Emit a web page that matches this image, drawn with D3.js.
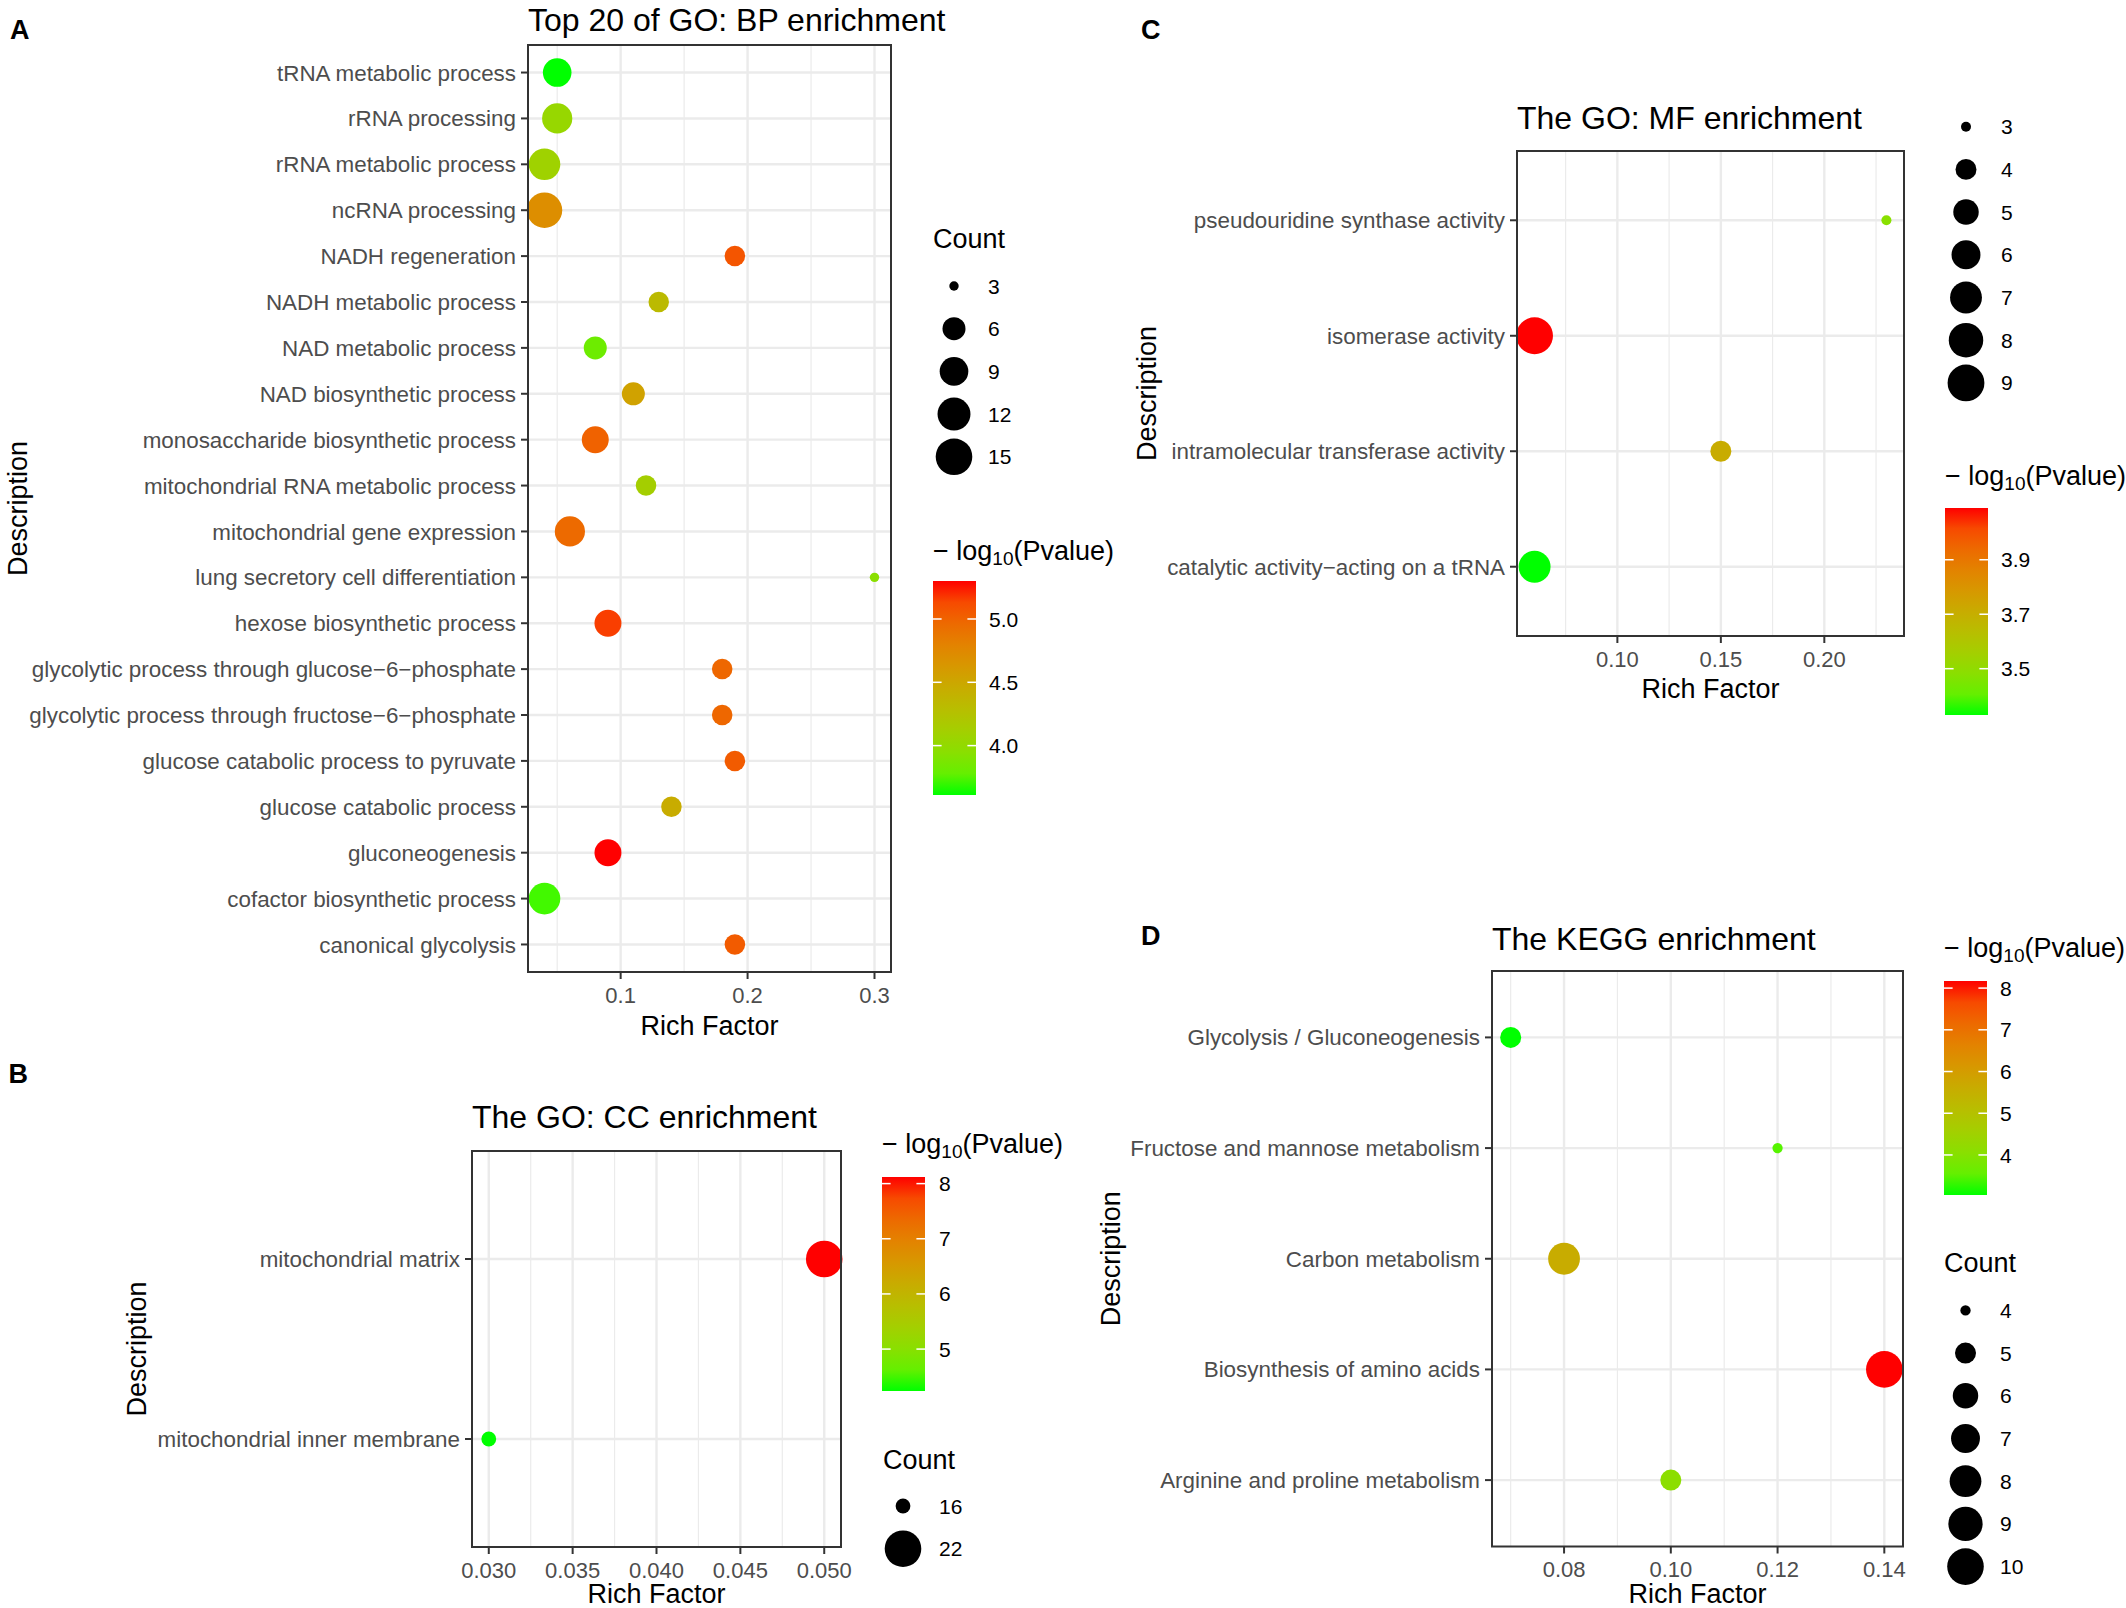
<!DOCTYPE html>
<html>
<head>
<meta charset="utf-8">
<script src="https://cdn.jsdelivr.net/npm/d3@7"></script>
<style>
body { margin: 0; background: #fff; }
svg text { font-family: "Liberation Sans", Arial, sans-serif; }
</style>
</head>
<body>
<script>
// ---- A: GO BP (rows listed top to bottom) ----
var bpTerms = ["tRNA metabolic process", "rRNA processing", "rRNA metabolic process", "ncRNA processing",
	"NADH regeneration", "NADH metabolic process", "NAD metabolic process", "NAD biosynthetic process",
	"monosaccharide biosynthetic process", "mitochondrial RNA metabolic process", "mitochondrial gene expression",
	"lung secretory cell differentiation", "hexose biosynthetic process", "glycolytic process through glucose\u22126\u2212phosphate",
	"glycolytic process through fructose\u22126\u2212phosphate", "glucose catabolic process to pyruvate",
	"glucose catabolic process", "gluconeogenesis", "cofactor biosynthetic process", "canonical glycolysis"];
var bpRich = [0.05, 0.05, 0.04, 0.04, 0.19, 0.13, 0.08, 0.11, 0.08, 0.12, 0.06, 0.30, 0.09, 0.18, 0.18, 0.19, 0.14, 0.09, 0.04, 0.19];
var bpCount = [9, 10, 11, 14, 5, 5, 6, 6, 8, 5, 10, 3, 8, 5, 5, 5, 5, 8, 11, 5];
var bpLogP = [3.61, 4.03, 4.08, 4.71, 5.08, 4.32, 3.81, 4.54, 5.01, 4.12, 4.96, 3.95, 5.18, 4.98, 4.98, 5.05, 4.45, 5.30, 3.68, 5.05];
var bpRichTicks = [0.1, 0.2, 0.3];
var bpCountBreaks = [3, 6, 9, 12, 15];
var bpLogPTicks = [4.0, 4.5, 5.0];

// ---- B: GO CC ----
var ccTerms = ["mitochondrial matrix", "mitochondrial inner membrane"];
var ccRich = [0.05, 0.03];
var ccCount = [22, 16];
var ccLogP = [8.12, 4.24];
var ccRichTicks = [0.030, 0.035, 0.040, 0.045, 0.050];
var ccCountBreaks = [16, 22];
var ccLogPTicks = [5, 6, 7, 8];

// ---- C: GO MF ----
var mfTerms = ["pseudouridine synthase activity", "isomerase activity", "intramolecular transferase activity",
	"catalytic activity\u2212acting on a tRNA"];
var mfRich = [0.23, 0.06, 0.15, 0.06];
var mfCount = [3, 9, 4, 7];
var mfLogP = [3.48, 4.09, 3.71, 3.33];
var mfRichTicks = [0.10, 0.15, 0.20];
var mfCountBreaks = [3, 4, 5, 6, 7, 8, 9];
var mfLogPTicks = [3.5, 3.7, 3.9];

// ---- D: KEGG ----
var keggTerms = ["Glycolysis / Gluconeogenesis", "Fructose and mannose metabolism", "Carbon metabolism",
	"Biosynthesis of amino acids", "Arginine and proline metabolism"];
var keggRich = [0.07, 0.12, 0.08, 0.14, 0.10];
var keggCount = [5, 4, 8, 10, 5];
var keggLogP = [3.04, 3.40, 5.60, 8.17, 4.10];
var keggRichTicks = [0.08, 0.10, 0.12, 0.14];
var keggCountBreaks = [4, 5, 6, 7, 8, 9, 10];
var keggLogPTicks = [4, 5, 6, 7, 8];

var W = 2126, H = 1608;
var svg = d3.select("body").append("svg")
	.attr("width", W)
	.attr("height", H)
	.style("background", "#fff");

var defs = svg.append("defs");

function drawPanel(p) {
	var g = svg.append("g");
	var box = p.box;

	// scales
	var ext = d3.extent(p.rich);
	var pad = (ext[1] - ext[0]) * 0.05;
	var x = d3.scaleLinear().domain([ext[0] - pad, ext[1] + pad]).range([box.l, box.r]);
	var y = d3.scalePoint().domain(p.terms).range([box.t, box.b]).padding(0.6);
	var cExt = d3.extent(p.logp);
	var color = d3.scaleLinear().domain(cExt).range(["#00ff00", "#ff0000"]).interpolate(d3.interpolateLab);
	var cmin = d3.min(p.count);
	var sq = d3.scaleSqrt().domain([0, p.breaks[p.breaks.length - 1] - cmin]).range([p.rmin, p.rmax]);
	var size = function(c) { return sq(c - cmin); };

	// gridlines: minor then major
	var step = p.ticks[1] - p.ticks[0];
	var minor = [];
	for (var m = p.ticks[0] - step / 2; m <= p.ticks[p.ticks.length - 1] + step; m += step) {
		if (m > x.domain()[0] && m < x.domain()[1]) minor.push(m);
	}
	g.selectAll(".minor").data(minor).enter().append("line")
		.attr("x1", function(d) { return x(d); }).attr("x2", function(d) { return x(d); })
		.attr("y1", box.t).attr("y2", box.b)
		.style("stroke", "#ebebeb").style("stroke-width", 1.2);
	g.selectAll(".vmajor").data(p.ticks).enter().append("line")
		.attr("x1", function(d) { return x(d); }).attr("x2", function(d) { return x(d); })
		.attr("y1", box.t).attr("y2", box.b)
		.style("stroke", "#ebebeb").style("stroke-width", 2.4);
	g.selectAll(".hmajor").data(p.terms).enter().append("line")
		.attr("x1", box.l).attr("x2", box.r)
		.attr("y1", function(d) { return y(d); }).attr("y2", function(d) { return y(d); })
		.style("stroke", "#ebebeb").style("stroke-width", 2.4);

	// points
	g.selectAll(".pt").data(p.terms).enter().append("circle")
		.attr("cx", function(d, i) { return x(p.rich[i]); })
		.attr("cy", function(d) { return y(d); })
		.attr("r", function(d, i) { return size(p.count[i]); })
		.style("fill", function(d, i) { return color(p.logp[i]); });

	// border
	g.append("rect")
		.attr("x", box.l).attr("y", box.t)
		.attr("width", box.r - box.l).attr("height", box.b - box.t)
		.style("fill", "none").style("stroke", "#333").style("stroke-width", 2);

	// y axis ticks + labels
	g.selectAll(".yt").data(p.terms).enter().append("line")
		.attr("x1", box.l - 7).attr("x2", box.l)
		.attr("y1", function(d) { return y(d); }).attr("y2", function(d) { return y(d); })
		.style("stroke", "#333").style("stroke-width", 2);
	g.selectAll(".yl").data(p.terms).enter().append("text")
		.attr("x", box.l - 12)
		.attr("y", function(d) { return y(d); })
		.attr("dy", "0.36em")
		.attr("text-anchor", "end")
		.style("font-size", "22.4px").style("fill", "#4d4d4d")
		.text(function(d) { return d; });

	// x axis ticks + labels
	var fmt = d3.format(p.xfmt);
	g.selectAll(".xt").data(p.ticks).enter().append("line")
		.attr("x1", function(d) { return x(d); }).attr("x2", function(d) { return x(d); })
		.attr("y1", box.b).attr("y2", box.b + 7)
		.style("stroke", "#333").style("stroke-width", 2);
	g.selectAll(".xl").data(p.ticks).enter().append("text")
		.attr("x", function(d) { return x(d); })
		.attr("y", box.b + 30.5)
		.attr("text-anchor", "middle")
		.style("font-size", "22px").style("fill", "#4d4d4d")
		.text(function(d) { return fmt(d); });

	// titles
	g.append("text")
		.attr("x", (box.l + box.r) / 2).attr("y", box.b + p.xtitleGap)
		.attr("text-anchor", "middle")
		.style("font-size", "27px")
		.text("Rich Factor");
	g.append("text")
		.attr("transform", "translate(" + p.descX + "," + ((box.t + box.b) / 2) + ") rotate(-90)")
		.attr("dy", "0.36em")
		.attr("text-anchor", "middle")
		.style("font-size", "27px")
		.text("Description");
	g.append("text")
		.attr("x", box.l).attr("y", p.titleY)
		.style("font-size", "32px")
		.text(p.title);
	g.append("text")
		.attr("x", p.tag[0]).attr("y", p.tag[1])
		.style("font-size", "27px").style("font-weight", "bold")
		.text(p.tagText);

	// size legend
	var sl = p.sizeLeg;
	if (sl.title) {
		g.append("text")
			.attr("x", sl.titleX).attr("y", sl.titleY)
			.style("font-size", "27px")
			.text("Count");
	}
	g.selectAll(".sk").data(p.breaks).enter().append("circle")
		.attr("cx", sl.keyX)
		.attr("cy", function(d, i) { return sl.y0 + i * 42.7; })
		.attr("r", function(d) { return size(d); })
		.style("fill", "#000");
	g.selectAll(".sl").data(p.breaks).enter().append("text")
		.attr("x", sl.labelX)
		.attr("y", function(d, i) { return sl.y0 + i * 42.7; })
		.attr("dy", "0.36em")
		.style("font-size", "21px")
		.text(function(d) { return d; });

	// colour bar legend
	var cl = p.colLeg;
	var gid = "grad" + p.tagText;
	var grad = defs.append("linearGradient").attr("id", gid)
		.attr("x1", 0).attr("y1", 1).attr("x2", 0).attr("y2", 0);
	d3.range(0, 1.0001, 0.1).forEach(function(t) {
		grad.append("stop").attr("offset", t)
			.attr("stop-color", color(cExt[0] + t * (cExt[1] - cExt[0])));
	});
	var cy = d3.scaleLinear().domain(cExt).range([cl.bottom, cl.top]);
	g.append("rect")
		.attr("x", cl.x).attr("y", cl.top)
		.attr("width", 43).attr("height", cl.bottom - cl.top)
		.style("fill", "url(#" + gid + ")");
	g.selectAll(".ctl").data(p.cticks).enter().append("line")
		.attr("x1", cl.x).attr("x2", cl.x + 8.6)
		.attr("y1", function(d) { return cy(d); }).attr("y2", function(d) { return cy(d); })
		.style("stroke", "#fff").style("stroke-width", 1.5);
	g.selectAll(".ctr").data(p.cticks).enter().append("line")
		.attr("x1", cl.x + 43 - 8.6).attr("x2", cl.x + 43)
		.attr("y1", function(d) { return cy(d); }).attr("y2", function(d) { return cy(d); })
		.style("stroke", "#fff").style("stroke-width", 1.5);
	var cfmt = d3.format(p.cfmt);
	g.selectAll(".cl").data(p.cticks).enter().append("text")
		.attr("x", cl.labelX)
		.attr("y", function(d) { return cy(d); })
		.attr("dy", "0.36em")
		.style("font-size", "21px")
		.text(function(d) { return cfmt(d); });
	var ct = g.append("text")
		.attr("x", cl.x).attr("y", cl.titleY)
		.style("font-size", "27px");
	ct.append("tspan").text("\u2212 log");
	ct.append("tspan").attr("dy", 5).style("font-size", "19px").text("10");
	ct.append("tspan").attr("dy", -5).text("(Pvalue)");
}

drawPanel({
	terms: bpTerms, rich: bpRich, count: bpCount, logp: bpLogP,
	ticks: bpRichTicks, breaks: bpCountBreaks, cticks: bpLogPTicks,
	xfmt: ".1f", cfmt: ".1f",
	box: {l: 528, r: 891, t: 45, b: 972}, xtitleGap: 63,
	title: "Top 20 of GO: BP enrichment", titleY: 31, tagText: "A", tag: [10, 38.6], descX: 17,
	rmin: 4.7, rmax: 18.3,
	sizeLeg: {title: true, titleX: 933, titleY: 248, keyX: 954, labelX: 988, y0: 286},
	colLeg: {x: 933, top: 581, bottom: 795, titleY: 560, labelX: 989}
});

drawPanel({
	terms: ccTerms, rich: ccRich, count: ccCount, logp: ccLogP,
	ticks: ccRichTicks, breaks: ccCountBreaks, cticks: ccLogPTicks,
	xfmt: ".3f", cfmt: "d",
	box: {l: 472, r: 841, t: 1151, b: 1547}, xtitleGap: 56,
	title: "The GO: CC enrichment", titleY: 1128, tagText: "B", tag: [8.5, 1083], descX: 136,
	rmin: 7.4, rmax: 18.3,
	sizeLeg: {title: true, titleX: 883, titleY: 1469, keyX: 903, labelX: 939, y0: 1506},
	colLeg: {x: 882, top: 1177, bottom: 1391, titleY: 1153, labelX: 939}
});

drawPanel({
	terms: mfTerms, rich: mfRich, count: mfCount, logp: mfLogP,
	ticks: mfRichTicks, breaks: mfCountBreaks, cticks: mfLogPTicks,
	xfmt: ".2f", cfmt: ".1f",
	box: {l: 1517, r: 1904, t: 151, b: 636}, xtitleGap: 62,
	title: "The GO: MF enrichment", titleY: 129, tagText: "C", tag: [1141, 38.8], descX: 1146,
	rmin: 5, rmax: 18.4,
	sizeLeg: {title: false, keyX: 1966, labelX: 2001, y0: 126.7},
	colLeg: {x: 1945, top: 508, bottom: 715, titleY: 484.5, labelX: 2001}
});

drawPanel({
	terms: keggTerms, rich: keggRich, count: keggCount, logp: keggLogP,
	ticks: keggRichTicks, breaks: keggCountBreaks, cticks: keggLogPTicks,
	xfmt: ".2f", cfmt: "d",
	box: {l: 1492, r: 1903, t: 971, b: 1546.5}, xtitleGap: 56.5,
	title: "The KEGG enrichment", titleY: 950, tagText: "D", tag: [1141, 945], descX: 1110,
	rmin: 5.15, rmax: 18.3,
	sizeLeg: {title: true, titleX: 1944, titleY: 1272, keyX: 1965.5, labelX: 2000, y0: 1310.4},
	colLeg: {x: 1944, top: 981, bottom: 1195, titleY: 957, labelX: 2000}
});
</script>
</body>
</html>
